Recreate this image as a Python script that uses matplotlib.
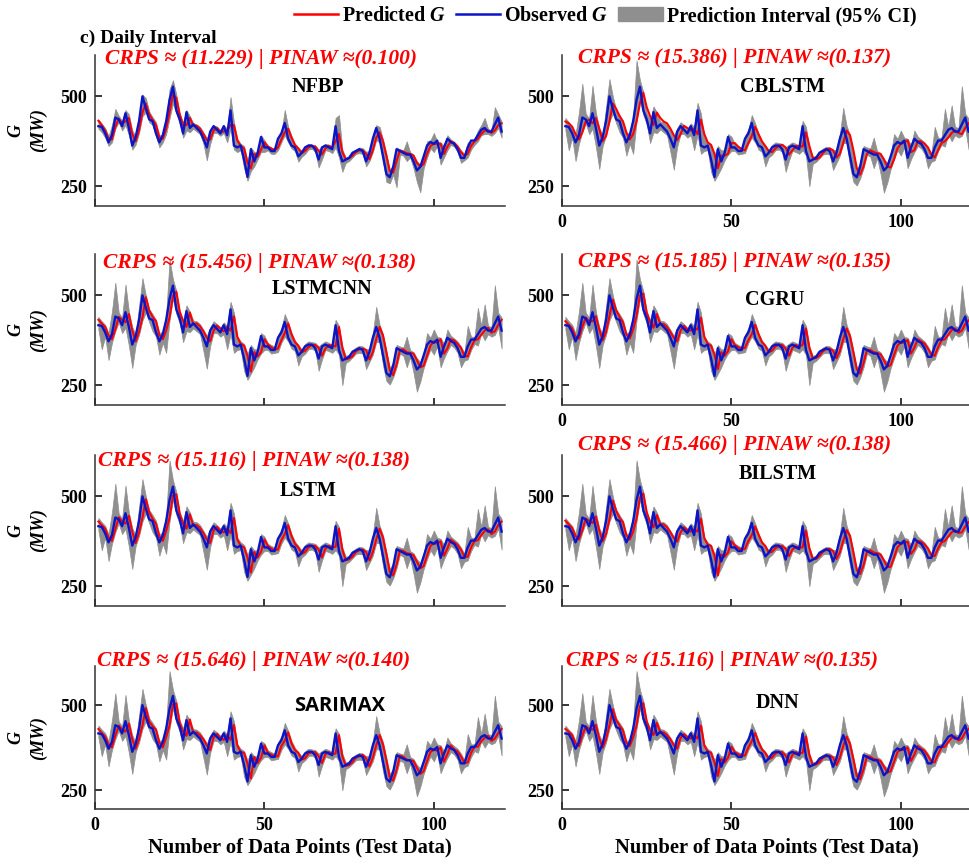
import matplotlib
matplotlib.use("Agg")
import matplotlib.pyplot as plt
from matplotlib.lines import Line2D
from matplotlib.patches import Patch
import numpy as np

# ---- data (x = 1..120 test days) ----
observed = [417, 415, 397, 372, 392, 441, 436, 417, 453, 412,
            363, 387, 431, 500, 466, 436, 431, 397, 372, 392,
            431, 490, 527, 461, 436, 397, 456, 412, 422, 412,
            402, 382, 358, 402, 417, 407, 397, 417, 392, 461,
            363, 358, 363, 324, 276, 353, 319, 343, 387, 358,
            358, 348, 348, 382, 397, 426, 382, 363, 358, 333,
            343, 358, 363, 363, 353, 324, 358, 363, 358, 353,
            417, 348, 319, 324, 329, 343, 348, 353, 348, 319,
            343, 382, 412, 382, 333, 284, 275, 304, 353, 348,
            343, 338, 338, 319, 294, 304, 333, 363, 373, 368,
            377, 329, 358, 382, 373, 368, 353, 329, 329, 358,
            377, 377, 392, 407, 412, 402, 402, 422, 441, 402]

pred_nfbp = [432, 420, 405, 382, 380, 415, 438, 425, 430, 440,
             395, 375, 405, 455, 480, 450, 435, 420, 385, 382,
             410, 455, 505, 495, 450, 420, 420, 440, 418, 418,
             410, 395, 378, 380, 405, 412, 402, 402, 405, 420,
             420, 378, 362, 355, 315, 300, 340, 332, 352, 372,
             360, 355, 350, 358, 380, 400, 410, 385, 365, 355,
             342, 348, 358, 362, 360, 348, 338, 355, 362, 358,
             375, 395, 345, 325, 328, 335, 345, 350, 350, 340,
             325, 350, 385, 400, 375, 335, 292, 288, 320, 350,
             346, 342, 340, 335, 315, 305, 312, 340, 362, 368,
             368, 368, 340, 360, 375, 370, 360, 345, 335, 340,
             362, 375, 382, 395, 405, 405, 398, 405, 420, 425]

pred_cblstm = [430, 425, 415, 395, 380, 400, 430, 435, 425, 440,
               410, 375, 390, 430, 480, 465, 445, 430, 400, 380,
               395, 430, 480, 510, 470, 445, 420, 455, 440, 430,
               425, 410, 392, 378, 395, 418, 412, 405, 410, 395,
               435, 395, 372, 365, 340, 300, 335, 335, 340, 370,
               370, 360, 352, 350, 370, 390, 415, 395, 375, 362,
               348, 345, 355, 362, 365, 358, 338, 350, 362, 362,
               360, 400, 362, 330, 325, 330, 342, 352, 355, 350,
               330, 340, 370, 405, 392, 350, 300, 282, 305, 340,
               350, 345, 342, 340, 325, 305, 302, 325, 355, 368,
               372, 378, 345, 350, 375, 375, 368, 358, 338, 330,
               350, 370, 375, 385, 398, 405, 398, 395, 412, 425]

pred_lstmcnn = [432, 422, 412, 388, 378, 405, 440, 432, 425, 448,
                402, 372, 398, 438, 495, 458, 440, 428, 390, 378,
                402, 438, 498, 510, 455, 428, 412, 452, 420, 422,
                414, 400, 382, 372, 402, 416, 408, 400, 412, 402,
                442, 385, 365, 360, 332, 288, 342, 330, 342, 378,
                364, 356, 350, 352, 375, 395, 422, 392, 370, 360,
                342, 346, 356, 362, 362, 354, 332, 352, 362, 360,
                358, 412, 355, 322, 325, 330, 345, 350, 352, 348,
                322, 342, 378, 412, 388, 342, 292, 278, 308, 348,
                350, 342, 340, 338, 320, 300, 304, 332, 360, 372,
                368, 378, 338, 352, 378, 375, 365, 354, 332, 330,
                355, 375, 378, 390, 402, 410, 396, 400, 418, 432]

pred_cgru = [428, 418, 408, 385, 380, 412, 438, 428, 428, 442,
             405, 375, 398, 442, 488, 458, 440, 425, 392, 380,
             405, 442, 500, 505, 452, 426, 410, 448, 420, 420,
             412, 398, 382, 372, 402, 415, 405, 402, 408, 405,
             438, 385, 365, 360, 335, 295, 342, 332, 345, 378,
             362, 356, 352, 354, 375, 392, 418, 392, 370, 360,
             342, 346, 358, 362, 362, 352, 332, 354, 362, 358,
             362, 408, 355, 325, 326, 332, 345, 350, 352, 346,
             325, 345, 378, 408, 386, 342, 295, 282, 312, 348,
             348, 342, 340, 336, 320, 302, 306, 334, 360, 370,
             368, 376, 338, 355, 378, 372, 366, 352, 335, 332,
             356, 375, 378, 390, 404, 408, 396, 402, 420, 430]

pred_lstm = [430, 420, 410, 386, 376, 408, 442, 430, 424, 446,
             402, 370, 398, 440, 492, 456, 438, 424, 388, 376,
             404, 440, 502, 506, 452, 424, 410, 450, 418, 420,
             412, 398, 380, 370, 405, 415, 405, 400, 410, 398,
             440, 380, 362, 358, 330, 288, 345, 330, 346, 380,
             362, 355, 350, 352, 378, 395, 420, 390, 368, 358,
             340, 345, 358, 362, 362, 352, 330, 355, 362, 358,
             360, 410, 352, 322, 325, 332, 345, 350, 352, 345,
             322, 345, 380, 410, 385, 340, 290, 280, 310, 350,
             348, 342, 340, 336, 318, 300, 306, 335, 362, 370,
             368, 375, 335, 355, 380, 372, 365, 352, 332, 332,
             358, 376, 378, 392, 404, 408, 395, 402, 420, 430]

pred_bilstm = [432, 422, 412, 390, 380, 405, 438, 432, 426, 444,
               405, 375, 395, 436, 488, 460, 440, 428, 392, 380,
               402, 438, 496, 508, 456, 428, 414, 448, 422, 422,
               414, 400, 384, 374, 400, 414, 406, 402, 408, 402,
               438, 384, 366, 362, 335, 280, 338, 332, 344, 375,
               364, 356, 352, 354, 376, 392, 416, 394, 372, 362,
               344, 346, 356, 360, 362, 354, 334, 352, 360, 358,
               358, 405, 356, 326, 326, 334, 346, 352, 354, 348,
               326, 344, 376, 406, 390, 345, 295, 284, 308, 346,
               350, 344, 342, 338, 322, 304, 304, 330, 358, 368,
               370, 374, 340, 352, 376, 374, 366, 355, 336, 334,
               355, 372, 376, 388, 400, 406, 398, 400, 416, 428]

pred_sarimax = [430, 418, 408, 384, 376, 410, 440, 428, 422, 446,
                400, 372, 400, 440, 492, 452, 438, 428, 390, 376,
                406, 440, 502, 505, 448, 422, 410, 458, 418, 420,
                412, 400, 382, 368, 405, 416, 404, 398, 412, 398,
                442, 382, 362, 360, 328, 285, 348, 330, 345, 382,
                360, 355, 350, 350, 380, 396, 420, 388, 368, 360,
                340, 344, 358, 362, 362, 350, 330, 356, 362, 356,
                358, 412, 350, 322, 324, 332, 346, 350, 354, 344,
                320, 346, 382, 412, 384, 338, 288, 278, 310, 352,
                348, 340, 338, 336, 316, 298, 306, 336, 362, 370,
                366, 376, 334, 356, 382, 370, 364, 350, 330, 332,
                360, 378, 378, 394, 404, 410, 395, 402, 418, 430]

pred_dnn = [430, 422, 412, 388, 380, 410, 438, 430, 428, 442,
            402, 375, 400, 440, 488, 456, 440, 426, 390, 380,
            405, 440, 498, 506, 452, 426, 412, 448, 420, 420,
            412, 400, 382, 372, 404, 415, 406, 402, 410, 402,
            440, 382, 364, 360, 332, 292, 342, 332, 346, 378,
            362, 356, 352, 352, 376, 394, 418, 392, 370, 360,
            342, 346, 358, 362, 362, 352, 332, 354, 362, 358,
            360, 408, 354, 324, 326, 332, 346, 350, 352, 346,
            324, 346, 380, 408, 386, 342, 292, 282, 312, 350,
            348, 342, 340, 336, 320, 302, 306, 334, 362, 370,
            368, 376, 336, 355, 380, 372, 366, 352, 334, 332,
            356, 376, 378, 392, 404, 408, 396, 402, 420, 430]

# 95% interval bounds (NFBP has the narrow one)
upper_nfbp = [436, 424, 412, 390, 420, 465, 446, 432, 462, 450,
              405, 390, 440, 505, 495, 458, 442, 428, 392, 392,
              438, 520, 545, 505, 452, 428, 462, 445, 426, 422,
              415, 400, 384, 405, 420, 416, 406, 420, 410, 498,
              428, 382, 368, 362, 322, 358, 345, 346, 392, 378,
              364, 358, 354, 386, 400, 462, 415, 390, 368, 358,
              348, 362, 368, 366, 364, 352, 362, 368, 366, 360,
              440, 448, 352, 330, 333, 345, 352, 358, 356, 346,
              348, 392, 420, 415, 380, 340, 296, 308, 358, 352,
              350, 375, 345, 338, 320, 310, 338, 375, 378, 398,
              375, 372, 362, 392, 380, 374, 364, 350, 340, 372,
              372, 382, 405, 420, 440, 410, 405, 470, 450, 430]
lower_nfbp = [410, 400, 385, 362, 372, 410, 428, 405, 420, 392,
              352, 366, 398, 445, 455, 428, 420, 388, 358, 372,
              395, 438, 480, 452, 425, 385, 405, 400, 410, 402,
              395, 368, 322, 368, 398, 398, 390, 398, 372, 410,
              352, 345, 350, 300, 265, 292, 305, 325, 345, 345,
              350, 340, 340, 350, 372, 392, 372, 355, 348, 318,
              332, 340, 352, 354, 345, 302, 325, 350, 348, 342,
              358, 330, 290, 315, 320, 330, 340, 342, 340, 305,
              320, 345, 378, 372, 318, 262, 258, 282, 247, 338,
              335, 320, 330, 300, 262, 233, 300, 330, 355, 345,
              362, 310, 330, 350, 365, 360, 345, 315, 322, 330,
              352, 365, 375, 392, 395, 395, 390, 398, 412, 385]

upper = [440, 428, 418, 395, 455, 535, 452, 438, 530, 455,
         412, 392, 470, 548, 500, 462, 448, 432, 395, 400,
         445, 600, 545, 512, 455, 432, 472, 455, 430, 428,
         420, 404, 388, 412, 428, 420, 410, 425, 415, 482,
         452, 385, 372, 365, 338, 362, 350, 350, 395, 388,
         368, 362, 358, 390, 408, 448, 425, 395, 375, 362,
         350, 365, 372, 370, 368, 358, 366, 372, 368, 362,
         432, 415, 358, 332, 335, 348, 355, 360, 358, 350,
         352, 395, 468, 418, 392, 345, 298, 315, 362, 358,
         355, 385, 348, 342, 325, 315, 340, 395, 382, 405,
         385, 382, 365, 405, 388, 380, 372, 358, 340, 415,
         385, 385, 465, 415, 475, 415, 412, 528, 452, 438]
lower = [405, 350, 385, 320, 368, 400, 425, 395, 410, 360,
         298, 362, 390, 430, 452, 425, 400, 385, 335, 368,
         340, 430, 490, 448, 422, 370, 400, 398, 408, 400,
         392, 345, 296, 360, 395, 395, 385, 392, 350, 392,
         340, 348, 350, 290, 265, 282, 300, 322, 338, 348,
         348, 338, 340, 342, 368, 385, 372, 352, 345, 305,
         330, 338, 350, 352, 345, 290, 322, 348, 345, 340,
         350, 335, 250, 312, 318, 328, 338, 340, 338, 295,
         315, 335, 370, 370, 305, 262, 252, 272, 300, 338,
         332, 300, 328, 285, 232, 260, 298, 325, 350, 335,
         358, 300, 325, 345, 362, 355, 340, 300, 318, 322,
         348, 365, 360, 395, 375, 392, 385, 390, 410, 352]

models = ["NFBP", "LSTMCNN", "LSTM", "SARIMAX", "CBLSTM", "CGRU", "BILSTM", "DNN"]
crps = ["11.229", "15.456", "15.116", "15.646", "15.386", "15.185", "15.466", "15.116"]
pinaw = ["0.100", "0.138", "0.138", "0.140", "0.137", "0.135", "0.138", "0.135"]
preds = [pred_nfbp, pred_lstmcnn, pred_lstm, pred_sarimax,
         pred_cblstm, pred_cgru, pred_bilstm, pred_dnn]

x = np.arange(1, len(observed) + 1)

# ---- layout ----
W, H = 969, 868
plt.rcParams['font.family'] = ['Liberation Serif', 'DejaVu Serif']
plt.rcParams['font.weight'] = 'bold'
plt.rcParams['mathtext.fontset'] = 'custom'
plt.rcParams['mathtext.it'] = 'Liberation Serif:italic:bold'
plt.rcParams['mathtext.rm'] = 'Liberation Serif:bold'

fig = plt.figure(figsize=(W / 100, H / 100), dpi=100)

rows = [(55, 206), (254, 405), (455, 606), (666, 809)]
cols = [95, 562]
crps_pos = [(105, 59), (103, 263), (98, 461), (97, 661),
            (578, 58), (578, 262), (578, 445), (566, 661)]
name_pos = [(318, 87), (322, 289), (308, 491), (340, 706),
            (782, 87), (775, 300), (778, 474), (778, 703)]

red = '#ff0000'
blue = '#0a14c8'
grey = '#8f8f8f'

for k in range(8):
    c, r = divmod(k, 4)
    top, bot = rows[r]
    x0 = cols[c]
    ax = fig.add_axes([x0 / W, 1 - bot / H, 410 / W, (bot - top) / H])
    up = upper_nfbp if k == 0 else upper
    lo = lower_nfbp if k == 0 else lower
    ax.fill_between(x, lo, up, color=grey, lw=0.5, edgecolor=grey)
    ax.plot(x, preds[k], color=red, lw=1.5)
    ax.plot(x, observed, color=blue, lw=1.7)
    ax.set_xlim(0, 121)
    ax.set_ylim(195, 615)
    ax.set_yticks([250, 500])
    ax.set_xticks([0, 50, 100])
    for s in ['top', 'right']:
        ax.spines[s].set_visible(False)
    for s in ['left', 'bottom']:
        ax.spines[s].set_linewidth(1.1)
        ax.spines[s].set_color('#333333')
    ax.tick_params(direction='in', length=5, width=1.1, labelsize=13, pad=6)
    if r < 3 and not (c == 1 and r < 2):
        ax.set_xticklabels([])
    if r == 3:
        ax.set_xlabel('Number of Data Points (Test Data)', fontsize=14.8,
                      fontweight='bold', labelpad=2)
    if c == 0:
        yc = 1 - (top + bot) / 2 / H
        fig.text(16 / W, yc, 'G', rotation=90, ha='center', va='center',
                 fontsize=13, style='italic', weight='bold')
        fig.text(38 / W, yc, '(MW)', rotation=90, ha='center', va='center',
                 fontsize=13, style='italic', weight='bold')

    tx, ty = crps_pos[k]
    fig.text(tx / W, 1 - ty / H,
             'CRPS \u2248 (' + crps[k] + ') | PINAW \u2248(' + pinaw[k] + ')',
             color=red, fontsize=15.5, style='italic', weight='bold',
             ha='left', va='center')
    nx, ny = name_pos[k]
    if models[k] == 'SARIMAX':
        fig.text(nx / W, 1 - ny / H, models[k], fontsize=14.5, weight='bold',
                 family='Open Sans', ha='center', va='center')
    else:
        fig.text(nx / W, 1 - ny / H, models[k], fontsize=14.5, weight='bold',
                 ha='center', va='center')

fig.text(80 / W, 1 - 38 / H, 'c) Daily Interval', fontsize=14,
         weight='bold', ha='left', va='center')

handles = [Line2D([0], [0], color=red, lw=1.8),
           Line2D([0], [0], color=blue, lw=1.8),
           Patch(facecolor=grey, edgecolor=grey)]
fig.legend(handles, ['Predicted $G$', 'Observed $G$', 'Prediction Interval (95% CI)'],
           loc='center', bbox_to_anchor=(605 / W, 1 - 16 / H), ncol=3,
           frameon=False, fontsize=14.5, handlelength=2.2, handletextpad=0.2,
           columnspacing=0.5, borderaxespad=0)

fig.savefig('out.png', dpi=100)
